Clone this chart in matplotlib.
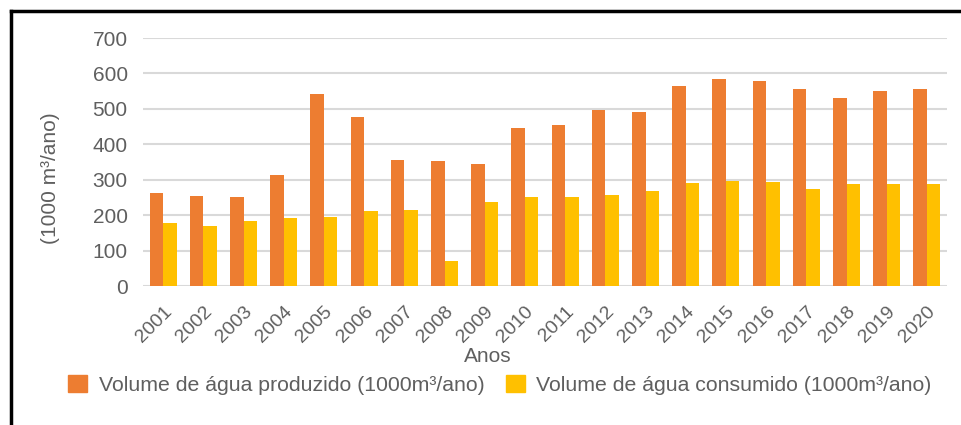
import matplotlib
matplotlib.use("Agg")
import matplotlib.pyplot as plt
import numpy as np
from matplotlib.lines import Line2D

plt.rcParams['font.family'] = ['Liberation Sans', 'DejaVu Sans']

anos = ['2001', '2002', '2003', '2004', '2005', '2006', '2007', '2008', '2009', '2010',
        '2011', '2012', '2013', '2014', '2015', '2016', '2017', '2018', '2019', '2020']
produzido = [262, 254, 250, 313, 541, 478, 355, 353, 343, 445,
             455, 496, 492, 564, 584, 578, 555, 532, 549, 555]
consumido = [178, 169, 184, 193, 194, 212, 215, 71, 237, 250,
             250, 257, 269, 291, 296, 294, 274, 289, 288, 287]
label_prod = 'Volume de água produzido (1000m³/ano)'
label_cons = 'Volume de água consumido (1000m³/ano)'
yticks = [0, 100, 200, 300, 400, 500, 600, 700]

c_prod = '#ED7D31'
c_cons = '#FFC000'
txt = '#5f5f5f'
grid = '#D9D9D9'
fs = 15

fig = plt.figure(figsize=(9.61, 4.25), dpi=100)
ax = fig.add_axes([143/961, 1-286/425, (947-143)/961, (286-38)/425])

x = np.arange(len(anos))
w = 0.335
ax.bar(x - w/2, produzido, width=w, color=c_prod, zorder=3, label=label_prod)
ax.bar(x + w/2, consumido, width=w, color=c_cons, zorder=3, label=label_cons)

ax.set_xlim(-0.5, len(anos) - 0.5)
ax.set_ylim(0, 700)
ax.set_yticks(yticks)
ax.set_yticklabels([str(v) for v in yticks], fontsize=fs, color=txt)
ax.yaxis.grid(True, color=grid, linewidth=1.5, zorder=0)
ax.set_axisbelow(True)
for s in ax.spines.values():
    s.set_visible(False)
ax.tick_params(axis='both', length=0)
ax.tick_params(axis='y', pad=11)
ax.set_xticks(x)
ax.set_xticklabels(anos, rotation=45, ha='right', va='top', rotation_mode='anchor',
                   fontsize=14, color=txt)
ax.tick_params(axis='x', pad=12)

fig.text(51/961, 1-178/425, '(1000 m³/ano)', rotation=90, ha='center', va='center',
         fontsize=fs, color=txt)
fig.text(488/961, 1-356/425, 'Anos', ha='center', va='center', fontsize=fs, color=txt)

handles = [plt.Rectangle((0, 0), 1, 1, color=c_prod), plt.Rectangle((0, 0), 1, 1, color=c_cons)]
fig.legend(handles, [label_prod, label_cons], loc='center', bbox_to_anchor=(500/961, 1-385/425),
           ncol=2, frameon=False, fontsize=15.3, labelcolor=txt, handlelength=0.88,
           handleheight=0.88, handletextpad=0.55, columnspacing=1.0, borderpad=0, borderaxespad=0)

fig.add_artist(Line2D([11/961, 1.0], [1-11/425, 1-11/425], color='black', linewidth=2.5,
                      transform=fig.transFigure))
fig.add_artist(Line2D([11/961, 11/961], [0, 1-11/425], color='black', linewidth=2.5,
                      transform=fig.transFigure))

fig.savefig('out.png', dpi=100)
